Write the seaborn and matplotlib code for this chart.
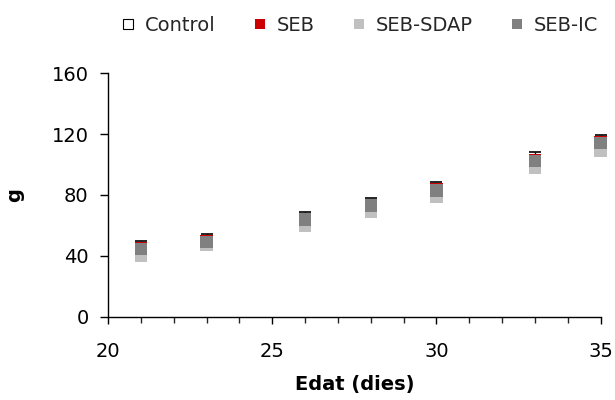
import numpy as np
import pandas as pd
import matplotlib
matplotlib.use("Agg")
import matplotlib.pyplot as plt
import seaborn as sns

# Age (days) and body weight (g) for each group
edat = [21, 23, 26, 28, 30, 33, 35]
control = [45.0, 49.6, 64.3, 73.5, 83.5, 103.0, 114.5]
control_err = [4.5, 4.8, 4.8, 4.8, 4.8, 5.0, 4.8]
seb = [45.2, 49.6, 64.3, 73.5, 83.5, 103.0, 114.6]
seb_sdap = [40.0, 47.0, 60.0, 69.0, 78.8, 98.2, 109.0]
seb_ic = [44.5, 49.0, 63.8, 73.0, 83.0, 102.5, 114.0]

groups = ["Control", "SEB", "SEB-SDAP", "SEB-IC"]
colors = {"Control": "white", "SEB": "#cc0000", "SEB-SDAP": "#c0c0c0", "SEB-IC": "#808080"}

df = pd.concat(
    [pd.DataFrame({"edat": edat, "pes": v, "grup": g})
     for g, v in zip(groups, [control, seb, seb_sdap, seb_ic])],
    ignore_index=True,
)

sns.set_theme(style="ticks")
plt.rcParams["font.family"] = ["DejaVu Sans"]

fig = plt.figure(figsize=(6.15, 4.0), dpi=100)
ax = fig.add_axes([0.1756, 0.208, 0.801, 0.609])

# upper error bars of the control group
ax.errorbar(edat, control, yerr=[np.zeros(len(edat)), control_err], fmt="none",
            ecolor="black", elinewidth=1.0, capsize=4, capthick=1.2, clip_on=False,
            zorder=2)

sns.scatterplot(data=df, x="edat", y="pes", hue="grup", hue_order=groups,
                palette=colors, marker="s", s=80, edgecolor="none", linewidth=0,
                legend=False, ax=ax, clip_on=False, zorder=3)

ax.set_xlim(20, 35)
ax.set_ylim(0, 160)
ax.set_xticks([20, 25, 30, 35])
ax.set_xticks(np.arange(20, 36, 1), minor=True)
ax.set_yticks([0, 40, 80, 120, 160])
ax.tick_params(axis="x", which="major", length=5, width=1, pad=13, labelsize=14, colors="black")
ax.tick_params(axis="x", which="minor", length=4, width=1)
ax.tick_params(axis="y", which="major", length=6, width=1, pad=8, labelsize=14, colors="black")
for side in ["top", "right"]:
    ax.spines[side].set_visible(False)
for side in ["left", "bottom"]:
    ax.spines[side].set_color("black")
    ax.spines[side].set_linewidth(1.0)

ax.set_xlabel("Edat (dies)", fontsize=14, fontweight="bold", labelpad=10, color="black")
ax.set_ylabel("g", fontsize=14, fontweight="bold", labelpad=20, color="black")

handles = [
    plt.Line2D([], [], marker="s", linestyle="none", markersize=7,
               markerfacecolor=colors[g],
               markeredgecolor="black" if g == "Control" else colors[g],
               markeredgewidth=0.8 if g == "Control" else 0)
    for g in groups
]
fig.legend(handles, groups, loc="center", bbox_to_anchor=(0.585, 0.937), ncol=4,
           frameon=False, fontsize=14, handlelength=0.7, handletextpad=0.5,
           columnspacing=1.95)

fig.savefig("out.png", dpi=100)
